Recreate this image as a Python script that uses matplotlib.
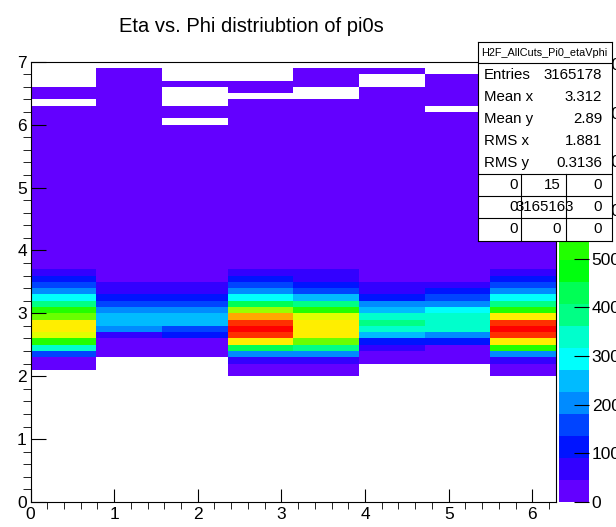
import colorsys
import numpy as np
import matplotlib
matplotlib.use("Agg")
import matplotlib.pyplot as plt
from matplotlib.colors import ListedColormap, BoundaryNorm

plt.rcParams["font.family"] = ["Liberation Sans", "DejaVu Sans"]

W, H = 616, 527

# binning of the histogram: 8 phi bins over [0, 2pi], 70 eta bins over [0, 7]
phi_edges = np.linspace(0, 2 * np.pi, 9)
eta_edges = np.linspace(0, 7, 71)

# counts per phi bin, eta bins 2.0-2.1 ... 3.6-3.7
core_counts = [
    [0, 25, 30, 160, 340, 520, 655, 700, 705, 565, 515, 385, 295, 205, 160, 115, 65],
    [0, 0, 0, 20, 25, 35, 70, 205, 250, 245, 200, 155, 110, 70, 60, 30, 25],
    [0, 0, 0, 20, 25, 35, 110, 160, 250, 250, 205, 160, 115, 70, 65, 30, 25],
    [20, 30, 70, 205, 430, 700, 840, 885, 835, 750, 610, 425, 295, 200, 160, 115, 70],
    [20, 25, 70, 205, 390, 565, 705, 715, 700, 660, 520, 385, 250, 160, 110, 70, 60],
    [0, 0, 20, 30, 70, 115, 250, 340, 385, 345, 250, 205, 115, 70, 65, 30, 25],
    [0, 0, 20, 25, 40, 115, 205, 340, 345, 340, 295, 205, 160, 115, 70, 30, 25],
    [20, 30, 70, 205, 520, 700, 840, 890, 840, 705, 520, 385, 295, 205, 160, 115, 70],
]
core_start = 2.0

# sparse tail above eta 3.7: low counts up to an upper edge, with a few empty bins
tail_counts = [12, 14, 10, 15, 13, 11, 12, 14]
tail_top = [6.6, 6.9, 6.7, 6.7, 6.9, 6.9, 6.8, 6.9]
tail_empty = [[6.3], [], [6.0, 6.3, 6.4, 6.5], [6.4], [6.4, 6.5], [6.6, 6.7], [6.2], []]

stats_name = "H2F_AllCuts_Pi0_etaVphi"
stats_rows = [("Entries", "3165178"), ("Mean x", "3.312"), ("Mean y", "2.89"),
              ("RMS x", "1.881"), ("RMS y", "0.3136")]
flow_cells = [["0", "15", "0"], ["0", "3165163", "0"], ["0", "0", "0"]]

zmax = 905
n_contours = 20

# fill the eta x phi matrix
counts = np.zeros((len(eta_edges) - 1, len(phi_edges) - 1))
k0 = int(round(core_start * 10))
for j, col in enumerate(core_counts):
    counts[k0:k0 + len(col), j] = col
    k1 = k0 + len(col)
    counts[k1:int(round(tail_top[j] * 10)), j] = tail_counts[j]
    for e in tail_empty[j]:
        counts[int(round(e * 10)), j] = 0

# ROOT "pretty" palette (violet -> red), 50 colours, sampled for 20 contours
pretty = [colorsys.hls_to_rgb((280 - (i + 1) * 5.6) / 360.0, 0.5, 1.0) for i in range(50)]
cols = [pretty[int((k + 0.99) * 50 / n_contours)] for k in range(n_contours)]
cmap = ListedColormap(cols)
norm = BoundaryNorm(np.linspace(0, zmax, n_contours + 1), n_contours)

fig = plt.figure(figsize=(W / 100, H / 100), dpi=100)
ax = fig.add_axes([30.5 / W, 1 - 502 / H, 525.5 / W, 440.3 / H])
mesh = ax.pcolormesh(phi_edges, eta_edges, np.ma.masked_equal(counts, 0),
                     cmap=cmap, norm=norm, edgecolors="none", antialiased=False)
ax.set_xlim(0, 2 * np.pi)
ax.set_ylim(0, 7)
ax.set_xticks(np.arange(0, 7, 1))
ax.set_xticks(np.arange(0, 6.3, 0.2), minor=True)
ax.set_yticks(np.arange(0, 8, 1))
ax.set_yticks(np.arange(0, 7.01, 0.2), minor=True)
ax.tick_params(direction="in", labelsize=12.5, width=0.8)
ax.tick_params(axis="x", which="major", length=9.4, pad=3.6)
ax.tick_params(axis="x", which="minor", length=5)
ax.tick_params(axis="y", which="major", length=10.8, pad=2.7)
ax.tick_params(axis="y", which="minor", length=5.8)
for s in ax.spines.values():
    s.set_linewidth(0.8)

# palette axis
cax = fig.add_axes([559 / W, 1 - 502 / H, 30 / W, 440.3 / H])
cb = fig.colorbar(mesh, cax=cax, ticks=np.arange(0, 901, 100))
cb.outline.set_visible(False)
cax.tick_params(direction="in", length=10.8, width=0.8, pad=2, labelsize=12.5)
cax.minorticks_off()

fig.text(251.7 / W, 1 - 31.7 / H, "Eta vs. Phi distriubtion of pi0s",
         ha="center", va="baseline", fontsize=14.5)

# statistics box, in pixel coordinates
sax = fig.add_axes([477.7 / W, 1 - 240.5 / H, 134 / W, 198.8 / H], zorder=10)
sax.set_xlim(477.7, 611.7)
sax.set_ylim(240.5, 41.7)
sax.set_xticks([])
sax.set_yticks([])
for s in sax.spines.values():
    s.set_linewidth(0.8)
sax.text(544.7, 52.5, stats_name, ha="center", va="center", fontsize=7.8)
for y in (62.7, 174, 196, 218):
    sax.axhline(y, color="black", lw=0.8)
for x in (520.7, 565.7):
    sax.plot([x, x], [174, 240.5], color="black", lw=0.8)
for (name, val), y in zip(stats_rows, [75, 97.3, 119, 140.7, 162.7]):
    sax.text(484, y, name, ha="left", va="center", fontsize=10.8)
    sax.text(602, y, val, ha="right", va="center", fontsize=10.8)
for row, y in zip(flow_cells, [185, 207, 229]):
    sax.text(518, y, row[0], ha="right", va="center", fontsize=10.8)
    if len(row[1]) > 3:
        sax.text(545, y, row[1], ha="center", va="center", fontsize=10.8)
    else:
        sax.text(561, y, row[1], ha="right", va="center", fontsize=10.8)
    sax.text(602, y, row[2], ha="right", va="center", fontsize=10.8)

fig.savefig("out.png", dpi=100)
